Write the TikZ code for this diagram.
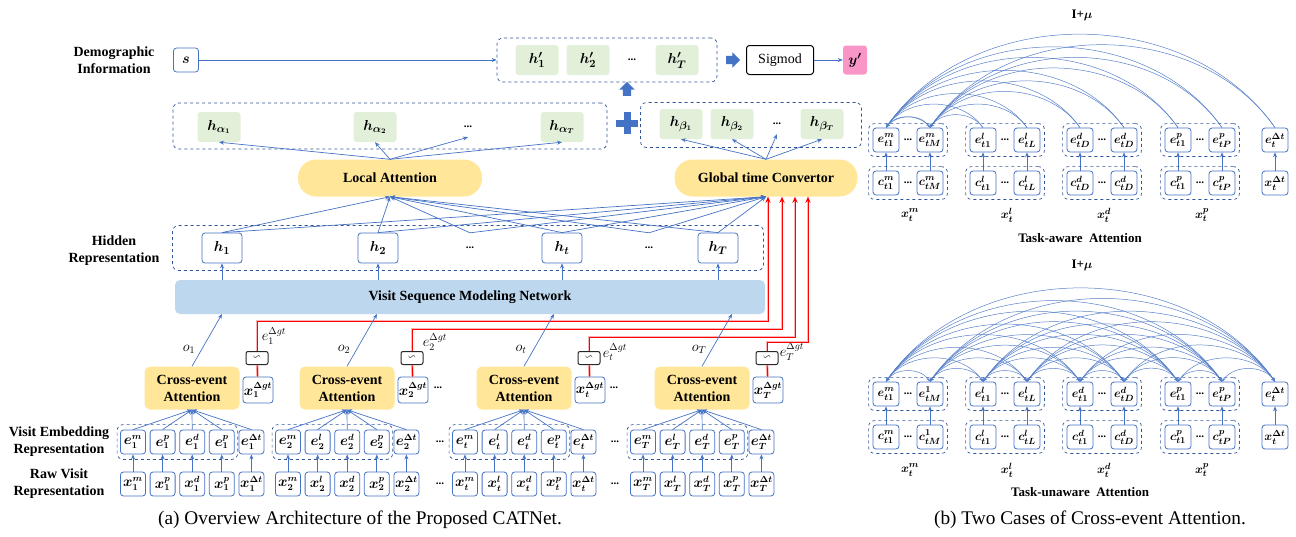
\documentclass[tikz,border=0pt]{standalone}
\usepackage{fontspec}
\setmainfont{Liberation Serif}
\usepackage{amsmath,amssymb,bm}
\usetikzlibrary{arrows.meta,fit,shapes.arrows}

\definecolor{lineblue}{RGB}{68,114,196}
\definecolor{dashblue}{RGB}{47,85,151}
\definecolor{leafgreen}{RGB}{226,240,217}
\definecolor{attyellow}{RGB}{255,230,153}
\definecolor{netblue}{RGB}{189,215,238}
\definecolor{outpink}{RGB}{248,150,200}

\begin{document}
\begin{tikzpicture}[x=1pt,y=-1pt]
    \tikzstyle{every node}=[inner sep=0pt, font=\fontsize{13}{16}\selectfont]
    \tikzstyle{lbl}=[align=center, font=\fontsize{14}{17}\selectfont\bfseries]
    \tikzstyle{vbox}=[draw=lineblue, line width=0.8pt, rounded corners=3pt, fill=white, minimum width=40pt, minimum height=30pt, font=\fontsize{15}{18}\selectfont\boldmath]
    \tikzstyle{sbox}=[vbox, minimum width=25pt, minimum height=24pt, font=\fontsize{13.5}{15}\selectfont\boldmath]
    \tikzstyle{pbox}=[vbox, minimum width=26pt, minimum height=24pt, font=\fontsize{13}{14}\selectfont\boldmath]
    \tikzstyle{leaf}=[fill=leafgreen, rounded corners=3pt, minimum width=43pt, minimum height=30pt, font=\fontsize{15}{18}\selectfont\boldmath]
    \tikzstyle{grp}=[draw=dashblue, dashed, line width=0.7pt, rounded corners=6pt]
    \tikzstyle{att}=[fill=attyellow, rounded corners=18pt, minimum height=37pt, font=\fontsize{14}{17}\selectfont\bfseries]
    \tikzstyle{cea}=[fill=attyellow, rounded corners=6pt, minimum width=95pt, minimum height=43pt, align=center, font=\fontsize{14}{17}\selectfont\bfseries]
    \tikzstyle{tbox}=[draw=black!85, line width=1pt, rounded corners=2pt, minimum width=22pt, minimum height=13pt, font=\fontsize{10}{10}\selectfont]
    \tikzstyle{dots}=[font=\fontsize{11}{11}\selectfont\bfseries]
    \tikzstyle{mlbl}=[font=\fontsize{13}{15}\selectfont\bfseries\boldmath]
    \tikzstyle{elbl}=[font=\fontsize{14.5}{16}\selectfont]
    \tikzstyle{blk}=[single arrow, fill=lineblue, inner sep=4pt, minimum height=14pt, single arrow head extend=3.5pt]
    \tikzstyle{ar}=[draw=lineblue, line width=0.7pt, -{Stealth[length=5pt,width=4pt]}]
    \tikzstyle{redln}=[draw=red, line width=0.9pt, preaction={draw=red!30, line width=2.6pt}]
    \tikzstyle{redar}=[redln, -{Stealth[length=6pt,width=5pt]}]
    \tikzstyle{bow}=[draw=lineblue!90, line width=0.5pt, -{Stealth[length=4pt,width=3pt]}]
    \tikzstyle{bowb}=[bow, {Stealth[length=4pt,width=3pt]}-{Stealth[length=4pt,width=3pt]}]

    \useasboundingbox (0,0) rectangle (1296,536);

    % (a) output part
    \node[lbl] (demo) at (114,60) {Demographic\\Information};
    \node[vbox, minimum width=25pt, minimum height=24pt] (s) at (186,60) {$s$};
    \node[grp, minimum width=220pt, minimum height=44pt] (hpg) at (607,60) {};
    \node[leaf] (hp1) at (537,60) {$h'_1$};
    \node[leaf] (hp2) at (588,60) {$h'_2$};
    \node[dots] (hpd) at (632,60) {...};
    \node[leaf] (hpT) at (677,60) {$h'_T$};
    \node[blk] (toout) at (731,60) {};
    \node[draw=black, line width=1pt, rounded corners=3pt, minimum width=67pt, minimum height=29pt, font=\fontsize{14}{17}\selectfont] (sig) at (780,60) {Sigmod};
    \node[fill=outpink, rounded corners=3pt, minimum width=24pt, minimum height=29pt, font=\fontsize{15}{18}\selectfont\boldmath] (yp) at (855,60) {$y'$};
    \draw[ar] (s) -- (hpg);
    \draw[ar] (sig) -- (yp);
    \node[blk, shape border rotate=90] (toup) at (627,91) {};
    \fill[lineblue] (616,119.5) rectangle (638,126.5);
    \fill[lineblue] (623.5,112) rectangle (630.5,134);

    % local / global branches
    \node[grp, minimum width=434pt, minimum height=46pt] (hag) at (390,126) {};
    \node[leaf] (ha1) at (219,127) {$h_{\alpha_1}$};
    \node[leaf] (ha2) at (375,127) {$h_{\alpha_2}$};
    \node[dots, minimum height=20pt] (had) at (468,127) {...};
    \node[leaf] (haT) at (562,127) {$h_{\alpha_T}$};
    \node[grp, minimum width=221pt, minimum height=45pt] (hbg) at (751,125) {};
    \node[leaf] (hb1) at (681,124) {$h_{\beta_1}$};
    \node[leaf] (hb2) at (732,124) {$h_{\beta_2}$};
    \node[dots, minimum height=20pt] (hbd) at (777,124) {...};
    \node[leaf] (hbT) at (822,124) {$h_{\beta_T}$};
    \node[att, minimum width=184pt] (local) at (390,178) {Local Attention};
    \node[att, minimum width=183pt] (global) at (766,178) {Global time Convertor};
    \foreach \n in {ha1,ha2,had,haT} \draw[ar] (local.north) -- (\n.south);
    \foreach \n in {hb1,hb2,hbd,hbT} \draw[ar] (global.north) -- (\n.south);

    % hidden representation
    \node[lbl] (hidlbl) at (114,251) {Hidden\\Representation};
    \node[grp, minimum width=591pt, minimum height=45pt] (hidg) at (468,248) {};
    \node[vbox] (h1) at (222,248) {$h_1$};
    \node[vbox] (h2) at (378,248) {$h_2$};
    \node[dots, minimum height=30pt] (hd1) at (470,248) {...};
    \node[vbox] (ht) at (562,248) {$h_t$};
    \node[dots, minimum height=30pt] (hd2) at (649,248) {...};
    \node[vbox] (hT) at (718,248) {$h_T$};
    \foreach \n in {h1,h2,hd1,ht,hd2,hT} {
        \draw[ar] (\n.north) -- (local.south);
        \draw[ar] (\n.north) -- (global.south);
    }
    \node[fill=netblue, rounded corners=5pt, minimum width=590pt, minimum height=34pt, font=\fontsize{14}{17}\selectfont\bfseries] (vsmn) at (470,297) {Visit Sequence Modeling Network};
    \foreach \n in {h1,h2,ht,hT} \draw[ar] (vsmn.north -| \n) -- (\n.south);

    % visits
    \node[lbl] (emblbl) at (59,442) {Visit Embedding\\Representation};
    \node[lbl] (rawlbl) at (59,484) {Raw Visit\\Representation};
    \foreach \g/\xs/\s/\sa/\rx/\ry/\lx/\ly in {1/133/1/p/768/321/141/336, 2/288/2/l/782/329/147/342, 3/465/t/l/795/337/150/352, 4/643/T/l/808/342/149/352} {
        \foreach \k/\q in {0/m,1/\sa,2/d,3/p,4/\Delta t} {
            \node[sbox] (x\g\k) at (\xs+\k*29.6,484) {$x_{\s}^{\q}$};
            \node[sbox] (e\g\k) at (\xs+\k*29.6,442) {$e_{\s}^{\q}$};
            \draw[ar] (x\g\k) -- (e\g\k);
        }
        \node[grp, inner xsep=3pt, inner ysep=5pt, fit=(e\g0)(e\g3)] (emb\g) {};
        \node[cea] (cea\g) at (\xs+59,388) {Cross-event\\Attention};
        \foreach \k in {0,...,4} \draw[ar] (e\g\k.north) -- (cea\g.south);
        \node[sbox, minimum width=30pt, minimum height=26pt] (xg\g) at (\xs+125,390) {$x_{\s}^{\Delta gt}$};
        \node[tbox] (til\g) at (\xs+124,358) {$\backsim$};
        \node[elbl] (el\g) at (\xs+\lx,\ly) {$e_{\s}^{\Delta gt}$};
        \coordinate (oe\g) at (\xs+89,314);
        \draw[ar] (cea\g.north) -- (oe\g);
        \node[elbl] (ol\g) at (\xs+56,349) {$o_{\s}$};
        \coordinate (bus\g) at (\rx,\ry);
        \draw[redln] (xg\g) -- (til\g);
        \draw[redar] (til\g.north) |- (bus\g) -- (bus\g |- global.south);
    }
    \node[dots] (dA1) at (438,388) {...};
    \node[dots] (dA2) at (440,442) {...};
    \node[dots] (dA3) at (440,484) {...};
    \node[dots] (dB1) at (614,388) {...};
    \node[dots] (dB2) at (615,442) {...};
    \node[dots] (dB3) at (615,484) {...};
    \node[font=\fontsize{19.3}{22}\selectfont] (capa) at (360,520) {(a) Overview Architecture of the Proposed CATNet.};

    % (b) task-aware attention
    \node[mlbl] (imua) at (1082,15) {I+$\mu$};
    \foreach \x/\etop/\cbot [count=\i] in {886/e^m_{t1}/c^m_{t1}, 930/e^m_{tM}/c^m_{tM}, 983/e^l_{t1}/c^l_{t1}, 1027/e^l_{tL}/c^l_{tL}, 1080/e^d_{tD}/c^d_{tD}, 1124/e^d_{tD}/c^d_{tD}, 1178/e^p_{t1}/c^p_{t1}, 1222/e^p_{tP}/c^p_{tP}, 1275/e^{\Delta t}_t/x^{\Delta t}_t} {
        \node[pbox] (ae\i) at (\x,140) {$\etop$};
        \node[pbox] (ac\i) at (\x,183) {$\cbot$};
        \draw[ar] (ac\i) -- (ae\i);
    }
    \draw[bow] (ae1.north) to[bend left=55] (ae2.north);
    \foreach \i in {2,...,9} \draw[bow] (ae\i.north) to[bend right=55] (ae1.north);
    \foreach \i in {3,...,9} \draw[bow] (ae\i.north) to[bend right=55] (ae2.north);

    % (b) task-unaware attention
    \node[mlbl] (imub) at (1082,265) {I+$\mu$};
    \foreach \x/\etop/\cbot [count=\i] in {886/e^m_{t1}/c^m_{t1}, 930/e^1_{tM}/c^1_{tM}, 983/e^l_{t1}/c^l_{t1}, 1027/e^l_{tL}/c^l_{tL}, 1080/e^d_{t1}/c^d_{t1}, 1124/e^d_{tD}/c^d_{tD}, 1178/e^p_{t1}/c^p_{t1}, 1222/e^p_{tP}/c^p_{tP}, 1275/e^{\Delta t}_t/x^{\Delta t}_t} {
        \node[pbox] (ue\i) at (\x,394) {$\etop$};
        \node[pbox] (uc\i) at (\x,437) {$\cbot$};
        \draw[ar] (uc\i) -- (ue\i);
    }
    \foreach \i in {1,...,8} {
        \pgfmathtruncatemacro\nxt{\i+1}
        \foreach \j in {\nxt,...,9} \draw[bowb] (ue\i.north) to[bend left=55] (ue\j.north);
    }

    % groups, dots and labels of both cases
    \foreach \a/\b/\px/\q [count=\j] in {1/2/908/m, 3/4/1005/l, 5/6/1102/d, 7/8/1200/p} {
        \node[grp, inner sep=4pt, fit=(ae\a)(ae\b)] (aeg\j) {};
        \node[grp, inner sep=4pt, fit=(ac\a)(ac\b)] (acg\j) {};
        \node[grp, inner sep=4pt, fit=(ue\a)(ue\b)] (ueg\j) {};
        \node[grp, inner sep=4pt, fit=(uc\a)(uc\b)] (ucg\j) {};
        \node[dots] (aed\j) at (\px,140) {...};
        \node[dots] (acd\j) at (\px,183) {...};
        \node[dots] (ued\j) at (\px,394) {...};
        \node[dots] (ucd\j) at (\px,437) {...};
        \node[mlbl] (axl\j) at (\px+2,215) {$x_t^{\q}$};
        \node[mlbl] (uxl\j) at (\px+2,470) {$x_t^{\q}$};
    }
    \node[mlbl] (awlbl) at (1080,238) {Task-aware\ \ Attention};
    \node[mlbl] (unlbl) at (1080,492) {Task-unaware\ \ Attention};
    \node[font=\fontsize{19.3}{22}\selectfont] (capb) at (1090,520) {(b) Two Cases of Cross-event Attention.};
\end{tikzpicture}
\end{document}
